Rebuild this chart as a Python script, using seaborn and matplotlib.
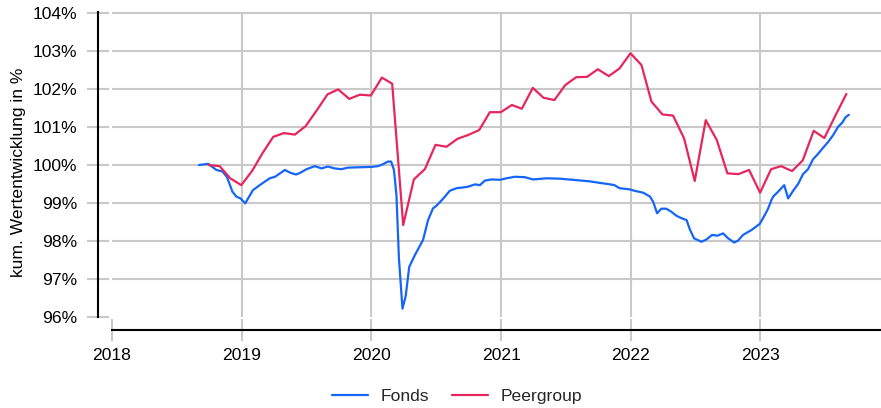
import numpy as np
import pandas as pd
import matplotlib
matplotlib.use("Agg")
import matplotlib.pyplot as plt
import matplotlib.dates as mdates
from matplotlib.ticker import FixedLocator, FuncFormatter
import seaborn as sns

# ---------------- data ----------------
fonds_dates = [
    "2018-09-03", "2018-09-29", "2018-10-22", "2018-11-08", "2018-11-21", "2018-12-06",
    "2018-12-17", "2018-12-29", "2019-01-11", "2019-02-02", "2019-02-21", "2019-03-07",
    "2019-03-21", "2019-04-05", "2019-04-19", "2019-05-03", "2019-05-17", "2019-06-03",
    "2019-06-14", "2019-07-03", "2019-07-26", "2019-08-14", "2019-09-01", "2019-09-20",
    "2019-10-09", "2019-10-27", "2019-11-29", "2020-01-01", "2020-01-20", "2020-02-03",
    "2020-02-17", "2020-02-26", "2020-03-05", "2020-03-12", "2020-03-19", "2020-03-29",
    "2020-04-07", "2020-04-17", "2020-05-03", "2020-05-26", "2020-06-09", "2020-06-23",
    "2020-07-03", "2020-07-22", "2020-08-09", "2020-08-28", "2020-09-16", "2020-09-30",
    "2020-10-19", "2020-11-02", "2020-11-16", "2020-12-05", "2020-12-28", "2021-01-16",
    "2021-02-08", "2021-03-08", "2021-04-01", "2021-05-09", "2021-06-15", "2021-07-22",
    "2021-09-07", "2021-10-05", "2021-10-28", "2021-11-16", "2021-11-30", "2021-12-28",
    "2022-01-12", "2022-01-22", "2022-02-05", "2022-02-24", "2022-03-05", "2022-03-16",
    "2022-03-28", "2022-04-11", "2022-04-25", "2022-05-10", "2022-05-24", "2022-06-07",
    "2022-06-16", "2022-06-28", "2022-07-19", "2022-08-02", "2022-08-18", "2022-09-02",
    "2022-09-18", "2022-10-02", "2022-10-19", "2022-10-30", "2022-11-13", "2022-12-07",
    "2022-12-30", "2023-01-13", "2023-01-23", "2023-02-01", "2023-02-06", "2023-02-20",
    "2023-03-09", "2023-03-20", "2023-04-03", "2023-04-17", "2023-05-01", "2023-05-15",
    "2023-05-29", "2023-06-12", "2023-06-27", "2023-07-11", "2023-07-25", "2023-08-08",
    "2023-08-19", "2023-08-29", "2023-09-07",
]
fonds_values = [
    100.00, 100.03, 99.87, 99.83, 99.68, 99.30,
    99.17, 99.12, 98.99, 99.34, 99.47, 99.56,
    99.65, 99.69, 99.78, 99.87, 99.80, 99.75,
    99.79, 99.89, 99.97, 99.91, 99.96, 99.91,
    99.89, 99.93, 99.94, 99.95, 99.97, 100.02,
    100.09, 100.09, 99.87, 99.21, 97.54, 96.22,
    96.55, 97.32, 97.63, 98.03, 98.55, 98.86,
    98.93, 99.12, 99.32, 99.39, 99.41, 99.43,
    99.49, 99.47, 99.59, 99.62, 99.61, 99.65,
    99.69, 99.68, 99.62, 99.65, 99.64, 99.61,
    99.57, 99.53, 99.50, 99.47, 99.39, 99.36,
    99.32, 99.30, 99.27, 99.17, 99.03, 98.73,
    98.85, 98.85, 98.77, 98.66, 98.60, 98.55,
    98.31, 98.07, 97.98, 98.04, 98.16, 98.14,
    98.20, 98.07, 97.96, 98.01, 98.16, 98.29,
    98.45, 98.68, 98.86, 99.08, 99.17, 99.30,
    99.47, 99.12, 99.32, 99.50, 99.76, 99.89,
    100.15, 100.29, 100.46, 100.61, 100.79, 101.01,
    101.11, 101.26, 101.32,
]

peer_months = pd.period_range("2018-09", "2023-08", freq="M")
peer_values = [
    100.00, 99.97, 99.65, 99.47,
    99.85, 100.30, 100.74, 100.84, 100.80, 101.02, 101.43, 101.86, 101.99, 101.74, 101.85, 101.83,
    102.30, 102.14, 98.42, 99.62, 99.89, 100.53, 100.48, 100.69, 100.79, 100.92, 101.39, 101.39,
    101.58, 101.48, 102.03, 101.77, 101.71, 102.10, 102.31, 102.32, 102.52, 102.34, 102.54, 102.94,
    102.63, 101.67, 101.33, 101.30, 100.70, 99.58, 101.18, 100.66, 99.78, 99.76, 99.87, 99.27,
    99.89, 99.97, 99.84, 100.12, 100.90, 100.71, 101.30, 101.87,
]

series_names = ["Fonds", "Peergroup"]
series_colors = ["#1565F8", "#E6265C"]
year_ticks = [2018, 2019, 2020, 2021, 2022, 2023]
y_ticks = [96, 97, 98, 99, 100, 101, 102, 103, 104]
y_label = "kum. Wertentwicklung in %"

# ---------------- frame ----------------
df_f = pd.DataFrame({"Datum": pd.to_datetime(fonds_dates), "Wert": fonds_values, "Serie": series_names[0]})
df_p = pd.DataFrame({"Datum": peer_months.to_timestamp(how="end").normalize(),
                     "Wert": peer_values, "Serie": series_names[1]})
df = pd.concat([df_f, df_p], ignore_index=True)

# ---------------- style ----------------
sns.set_style("whitegrid")
plt.rcParams["font.family"] = ["Liberation Sans", "DejaVu Sans"]
FS = 12.6
GRID = "#c9c9c9"

W, H = 881, 408
fig = plt.figure(figsize=(W / 100, H / 100), dpi=100)
top_px, bot_px, left_px = 11.5, 317, 112
ax = fig.add_axes([left_px / W, 1 - bot_px / H, (W - left_px) / W, (bot_px - top_px) / H])

sns.lineplot(data=df, x="Datum", y="Wert", hue="Serie", hue_order=series_names,
             palette=dict(zip(series_names, series_colors)), linewidth=1.6,
             estimator=None, ax=ax)

x0 = pd.Timestamp("2018-01-01")
ax.set_xlim(x0, x0 + pd.Timedelta(days=2165.5))
ax.set_ylim(96, 104 + (13 - top_px) / 38.0)

ax.set_xticks([pd.Timestamp(f"{y}-01-01") for y in year_ticks])
ax.xaxis.set_major_formatter(mdates.DateFormatter("%Y"))
ax.yaxis.set_major_locator(FixedLocator(y_ticks))
ax.yaxis.set_major_formatter(FuncFormatter(lambda v, p: f"{v:.0f}%"))

ax.grid(True, color=GRID, linewidth=1.5)
for s in ["top", "right"]:
    ax.spines[s].set_visible(False)
ax.spines["left"].set_position(("outward", 10))
ax.spines["bottom"].set_position(("outward", 9.4))
for s in ["left", "bottom"]:
    ax.spines[s].set_color("black")
    ax.spines[s].set_linewidth(1.5)
    ax.spines[s].set_zorder(5)

ax.tick_params(axis="both", which="major", direction="inout", length=15.8, width=1.5,
               color=GRID, labelsize=FS, labelcolor="black",
               bottom=True, left=True, top=False, right=False)
ax.tick_params(axis="y", pad=7.2)
ax.tick_params(axis="x", pad=5.0)

ax.set_xlabel("")
ax.set_ylabel(y_label, fontsize=FS, color="black")
ax.yaxis.set_label_coords((26 - left_px) / (W - left_px), (bot_px - 172) / (bot_px - top_px))

ax.yaxis.get_major_ticks()[0].gridline.set_visible(False)
ax.xaxis.get_major_ticks()[0].gridline.set_visible(False)

handles, labels = ax.get_legend_handles_labels()
ax.get_legend().remove()
leg = fig.legend(handles, labels, loc="center", bbox_to_anchor=(457 / W, 1 - 396 / H),
                 ncol=2, frameon=False, fontsize=FS, handlelength=2.05,
                 handletextpad=0.7, columnspacing=1.35)
for h in leg.get_lines():
    h.set_linewidth(1.6)

fig.savefig("out.png", dpi=100, facecolor="white")
